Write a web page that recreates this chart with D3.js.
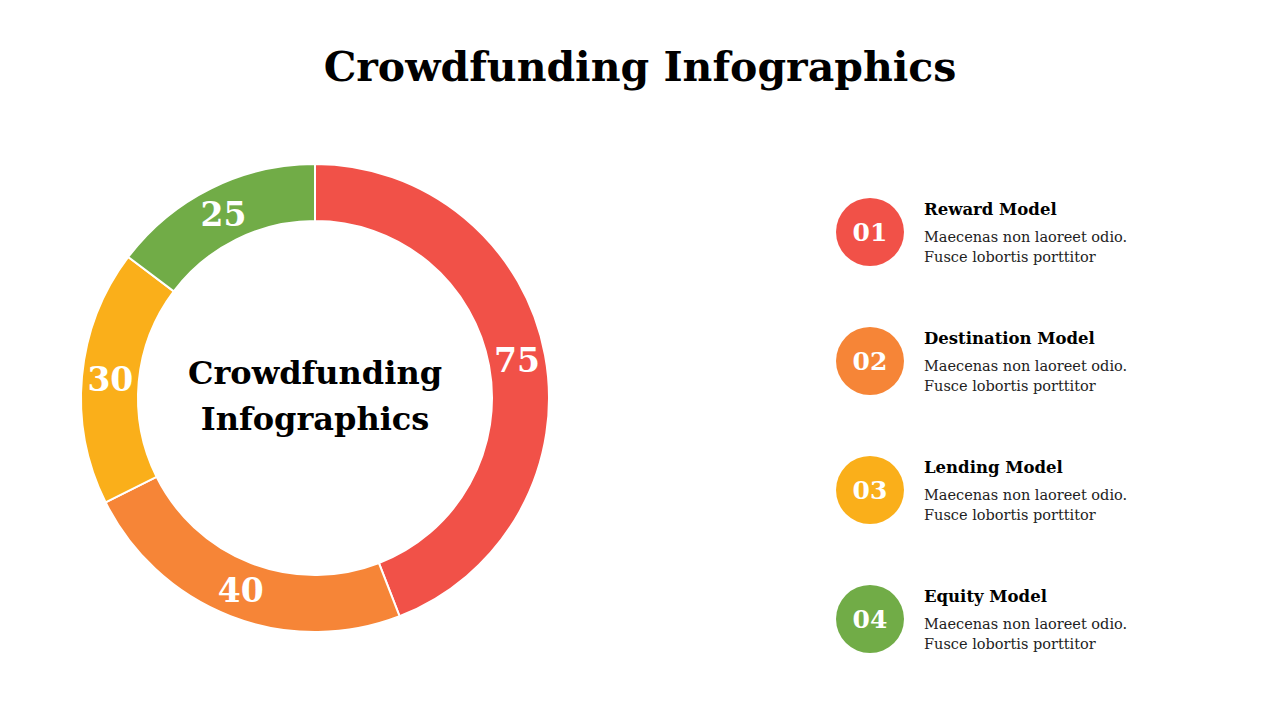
<!DOCTYPE html>
<html>
<head>
<meta charset="utf-8">
<script src="https://cdn.jsdelivr.net/npm/d3@7"></script>
<style>
  body { margin: 0; background: #fff; }
  svg { display: block; }
</style>
</head>
<body>
<div id="chart"></div>
<script>
// chart data
const categories = ["Reward Model", "Destination Model", "Lending Model", "Equity Model"];
const values = [75, 40, 30, 25];
const badges = ["01", "02", "03", "04"];
const descLine1 = "Maecenas non laoreet odio.";
const descLine2 = "Fusce lobortis porttitor";

const colors = ["#F15148", "#F68537", "#FAAF1A", "#71AC47"];

const width = 1280
const height = 720
const font = "'DejaVu Serif', 'Liberation Serif', serif"

const cx = 315
const cy = 398
const outerR = 234
const innerR = 177

let svg = d3.select("#chart")
    .append("svg")
    .attr("width", width)
    .attr("height", height)

// title
svg.append("text")
    .attr("x", 640)
    .attr("y", 81)
    .attr("text-anchor", "middle")
    .attr("font-family", font)
    .attr("font-weight", "bold")
    .attr("font-size", 41)
    .attr("fill", "#000")
    .text("Crowdfunding Infographics")

// donut
const pie = d3.pie().sort(null).value(d => d)
const arc = d3.arc().innerRadius(innerR).outerRadius(outerR)
const labelArc = d3.arc().innerRadius((innerR + outerR) / 2).outerRadius((innerR + outerR) / 2)

let donut = svg.append("g")
    .attr("transform", `translate(${cx},${cy})`)

donut.selectAll("path")
    .data(pie(values))
    .enter()
    .append("path")
    .attr("d", arc)
    .attr("fill", (d, i) => colors[i])
    .attr("stroke", "#fff")
    .attr("stroke-width", 2)

donut.selectAll("text.val")
    .data(pie(values))
    .enter()
    .append("text")
    .attr("class", "val")
    .attr("transform", d => `translate(${labelArc.centroid(d)})`)
    .attr("text-anchor", "middle")
    .attr("dy", "0.37em")
    .attr("font-family", font)
    .attr("font-weight", "bold")
    .attr("font-size", 33)
    .attr("fill", "#fff")
    .text(d => d.data)

// center label
donut.append("text")
    .attr("text-anchor", "middle")
    .attr("font-family", font)
    .attr("font-weight", "bold")
    .attr("font-size", 32)
    .attr("fill", "#000")
    .selectAll("tspan")
    .data(["Crowdfunding", "Infographics"])
    .enter()
    .append("tspan")
    .attr("x", 0)
    .attr("y", (d, i) => -14 + i * 46)
    .text(d => d)

// legend
const rowY = d3.scalePoint().domain(categories).range([232, 619])

let rows = svg.selectAll("g.row")
    .data(categories)
    .enter()
    .append("g")
    .attr("class", "row")
    .attr("transform", d => `translate(870,${rowY(d)})`)

rows.append("circle")
    .attr("r", 34)
    .attr("fill", (d, i) => colors[i])

rows.append("text")
    .attr("text-anchor", "middle")
    .attr("dy", "0.37em")
    .attr("font-family", font)
    .attr("font-weight", "bold")
    .attr("font-size", 25)
    .attr("fill", "#fff")
    .text((d, i) => badges[i])

rows.append("text")
    .attr("x", 54)
    .attr("y", -17)
    .attr("font-family", font)
    .attr("font-weight", "bold")
    .attr("font-size", 16.5)
    .attr("fill", "#000")
    .text(d => d)

rows.append("text")
    .attr("x", 54)
    .attr("y", 10)
    .attr("font-family", font)
    .attr("font-size", 14.5)
    .attr("fill", "#222")
    .text(descLine1)

rows.append("text")
    .attr("x", 54)
    .attr("y", 30)
    .attr("font-family", font)
    .attr("font-size", 14.5)
    .attr("fill", "#222")
    .text(descLine2)
</script>
</body>
</html>
